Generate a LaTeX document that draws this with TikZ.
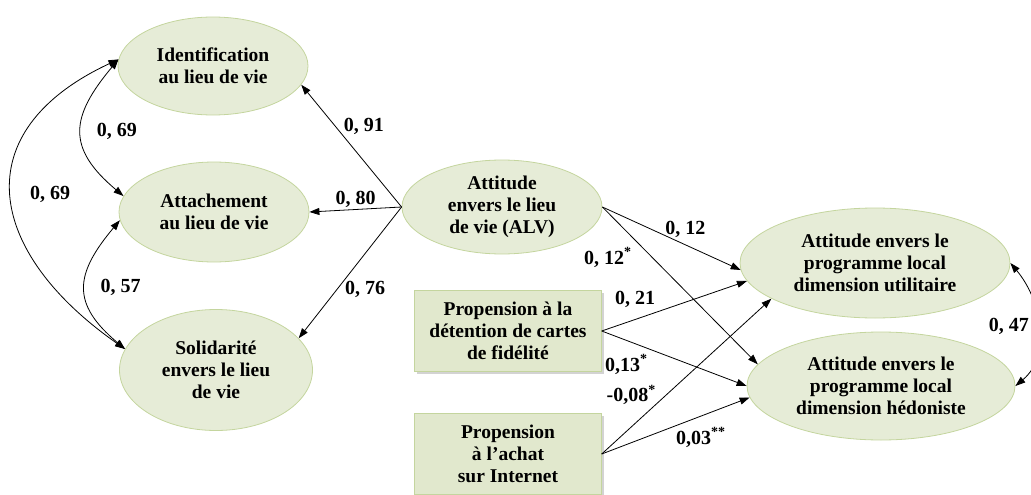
\documentclass[tikz,border=0pt]{standalone}
\usepackage{fontspec}
\setmainfont{Liberation Serif}
\usetikzlibrary{arrows.meta,shapes.geometric,shadows}
\definecolor{leaf}{HTML}{E6ECD7}
\definecolor{leafbox}{HTML}{E1E8CD}
\definecolor{leafline}{HTML}{C4D59E}

\begin{document}
\begin{tikzpicture}[x=1pt,y=1pt,>={Triangle[length=10pt,width=7pt]},
  txt/.style={font=\fontsize{19.5}{22}\selectfont\bfseries,align=center},
  lat/.style={txt,ellipse,draw=leafline,thick,fill=leaf,inner sep=0pt},
  obs/.style={txt,draw=leafline,fill=leafbox,minimum width=187pt,minimum height=81pt,
    drop shadow={shadow xshift=2pt,shadow yshift=-2pt,opacity=.35}},
  rel/.style={->,line width=0.8pt},
  cov/.style={<->,line width=0.8pt},
  lab/.style={font=\fontsize{20}{22}\selectfont\bfseries,inner sep=2pt}]
\useasboundingbox (0,0) rectangle (1031,-495);
% variables latentes
\node[lat,minimum width=190pt,minimum height=98pt] (ident) at (213,-66) {Identification\\au lieu de vie};
\node[lat,minimum width=190pt,minimum height=100pt] (attach) at (214,-212) {Attachement\\au lieu de vie};
\node[lat,minimum width=193pt,minimum height=121pt] (solid) at (216,-370) {Solidarité\\envers le lieu\\de vie};
\node[lat,minimum width=200pt,minimum height=94pt] (alv) at (502,-207) {Attitude\\envers le lieu\\de vie (ALV)};
\node[lat,minimum width=270pt,minimum height=110pt] (util) at (875,-263) {Attitude envers le\\programme local\\dimension utilitaire};
\node[lat,minimum width=268pt,minimum height=108pt] (hedo) at (881,-386) {Attitude envers le\\programme local\\dimension hédoniste};
% variables observees
\node[obs] (carte) at (508,-331) {Propension à la\\détention de cartes\\de fidélité};
\node[obs] (web) at (508,-454) {Propension\\à l'achat\\sur Internet};
% ALV vers ses dimensions
\draw[rel] (alv.west) -- node[lab,right,pos=0.66,xshift=6pt] {0, 91} (ident.-12);
\draw[rel] (alv.west) -- node[lab,above] {0, 80} (attach.east);
\draw[rel] (alv.west) -- node[lab,right,pos=0.63,xshift=6pt] {0, 76} (solid.21);
% covariances
\draw[cov] (ident.176) to[out=-130,in=140,looseness=1.4] node[lab,right,xshift=13pt] {0, 69} (attach.170);
\draw[cov] (attach.185) to[out=-130,in=140,looseness=1.4] node[lab,right,xshift=13pt] {0, 57} (solid.167);
\draw[cov] (ident.176) to[out=-155,in=145,looseness=1.5] node[lab,right,xshift=16pt] {0, 69} (solid.167);
\draw[cov] (util.east) to[out=-50,in=40] node[lab,left,xshift=-7pt] {0, 47} (hedo.east);
% effets sur le programme local
\draw[rel] (alv.east) -- node[lab,above,pos=0.6,yshift=5pt] {0, 12} (util.183);
\draw[rel] (alv.east) -- node[lab,left,pos=0.32,xshift=-18pt] {0, 12\textsuperscript{*}} (hedo.170);
\draw[rel] (carte.east) -- node[lab,above,pos=0.23,yshift=10pt] {0, 21} (util.188);
\draw[rel] (carte.east) -- node[lab,below,pos=0.17,yshift=-12pt] {0,13\textsuperscript{*}} (hedo.west);
\draw[rel] (web.east) -- node[lab,left,pos=0.38,xshift=-8pt] {-0,08\textsuperscript{*}} (util.199);
\draw[rel] (web.east) -- node[lab,below,pos=0.67,yshift=-9pt] {0,03\textsuperscript{**}} (hedo.185);
\end{tikzpicture}
\end{document}
